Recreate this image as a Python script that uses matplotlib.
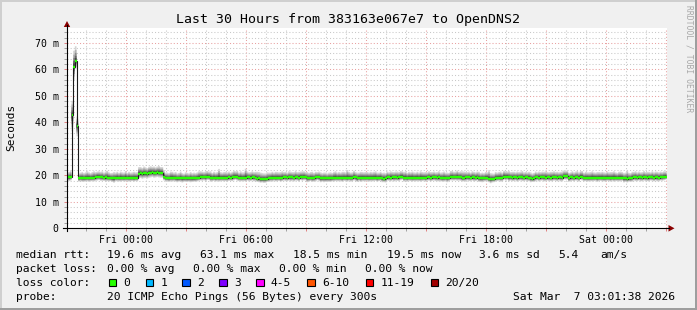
import numpy as np
import matplotlib.pyplot as plt
from matplotlib.patches import Rectangle, Polygon
from matplotlib.lines import Line2D
from matplotlib.ticker import MultipleLocator, FuncFormatter

W, H = 697, 310
MONO = "DejaVu Sans Mono"

# time axis: hours relative to Fri 00:00, graph ends Sat 03:01:38 (30 h window)
t_start = -2.9728
step_h = 5 / 60.0

# median rtt per 5 min step (ms)
median_ms = [
    19.2, 19.2, 19.3, 42.6, 61.0, 63.1, 38.7, 18.9, 19.0, 19.0, 18.9, 19.0, 19.0, 19.1, 19.0, 19.0, 19.1, 19.2, 19.5, 19.4,
    19.3, 19.2, 19.1, 19.2, 19.1, 19.1, 19.0, 18.8, 18.8, 19.0, 19.1, 19.0, 19.1, 19.0, 19.0, 19.1, 19.0, 19.1, 19.0, 19.0,
    19.0, 19.1, 19.0, 20.6, 20.7, 20.6, 20.7, 20.7, 20.6, 21.0, 21.0, 21.1, 21.0, 21.0, 21.1, 21.0, 21.0, 20.9, 19.5, 19.0,
    18.9, 18.9, 19.0, 19.1, 19.0, 18.9, 18.8, 18.8, 18.9, 18.8, 18.8, 18.9, 18.8, 18.8, 18.9, 18.8, 18.8, 18.9, 19.0, 19.1,
    19.3, 19.4, 19.3, 19.2, 19.5, 19.4, 19.1, 19.0, 19.1, 19.0, 19.1, 19.1, 19.0, 19.1, 19.1, 19.0, 19.1, 19.2, 19.1, 19.2,
    19.4, 19.5, 19.4, 19.1, 19.1, 19.0, 19.1, 19.1, 19.2, 19.2, 19.1, 19.2, 19.2, 19.1, 18.7, 18.8, 18.5, 18.5, 18.6, 18.5,
    18.7, 18.9, 19.0, 19.1, 19.1, 19.0, 19.1, 19.1, 19.0, 19.1, 19.2, 19.2, 19.1, 19.2, 19.2, 19.2, 19.1, 19.2, 19.2, 19.1,
    19.4, 19.3, 19.4, 19.3, 18.9, 18.9, 19.0, 18.9, 18.9, 19.2, 19.3, 19.2, 18.8, 18.8, 18.9, 18.8, 18.8, 18.9, 18.8, 18.9,
    19.1, 19.1, 19.0, 19.1, 19.1, 19.0, 19.1, 19.1, 19.0, 19.1, 19.1, 19.0, 19.3, 19.2, 18.8, 19.1, 19.0, 19.1, 19.1, 19.0,
    19.1, 19.1, 19.0, 19.1, 19.1, 19.1, 19.0, 19.1, 19.1, 18.8, 18.7, 18.8, 19.2, 19.2, 19.1, 19.2, 19.2, 19.2, 19.1, 19.2,
    19.4, 19.5, 19.1, 19.1, 19.0, 19.1, 19.1, 19.1, 19.0, 19.1, 19.1, 19.0, 19.1, 19.1, 19.1, 19.0, 19.2, 19.2, 19.1, 19.2,
    19.2, 19.2, 19.1, 19.2, 19.0, 18.9, 19.0, 19.0, 18.9, 19.0, 19.3, 19.4, 19.3, 19.3, 19.4, 19.3, 19.3, 18.9, 19.0, 19.2,
    19.2, 19.2, 19.1, 19.2, 19.2, 19.1, 19.2, 18.9, 18.8, 18.9, 18.9, 19.0, 19.1, 18.6, 18.5, 18.6, 18.6, 19.0, 19.1, 19.1,
    19.1, 19.0, 19.5, 19.4, 19.5, 19.2, 19.2, 19.1, 19.2, 19.2, 19.1, 19.2, 19.2, 19.2, 19.1, 19.2, 19.2, 19.1, 18.8, 18.7,
    18.8, 19.2, 19.2, 19.1, 19.2, 19.2, 19.2, 19.1, 19.2, 19.2, 19.1, 19.2, 19.2, 19.2, 19.1, 19.2, 19.2, 19.1, 19.6, 19.7,
    19.6, 18.8, 19.2, 19.2, 19.1, 19.2, 19.2, 19.1, 19.5, 19.4, 19.0, 19.0, 19.1, 19.0, 19.0, 19.1, 19.1, 19.1, 19.0, 19.1,
    19.1, 19.1, 19.0, 19.1, 19.1, 19.1, 19.0, 19.1, 19.1, 19.1, 19.0, 19.1, 19.1, 19.1, 18.8, 18.8, 18.7, 18.8, 18.8, 19.1,
    19.2, 19.2, 19.1, 19.2, 19.2, 19.1, 19.2, 19.2, 19.1, 19.2, 19.2, 19.2, 19.1, 19.2, 19.2, 19.1, 19.2, 19.3, 19.4, 19.5,
]

# smoke extent above / below the median, tenths of ms
smoke_up = [
    22, 20, 25, 55, 60, 56, 35, 18, 20, 22, 19, 21, 25, 20, 18, 22, 24, 20, 19, 21,
    20, 23, 19, 22, 26, 20, 18, 21, 24, 20, 22, 19, 23, 21, 20, 25, 19, 22, 20, 21,
    23, 20, 22, 25, 24, 22, 26, 23, 21, 22, 24, 21, 23, 20, 22, 25, 21, 22, 24, 20,
    21, 19, 24, 22, 20, 23, 19, 21, 25, 20, 18, 22, 21, 19, 23, 20, 22, 19, 21, 24,
    22, 20, 19, 23, 21, 20, 24, 19, 22, 20, 21, 33, 22, 19, 21, 23, 20, 22, 19, 21,
    23, 20, 22, 19, 24, 21, 20, 34, 22, 19, 21, 23, 20, 22, 26, 24, 25, 23, 21, 22,
    24, 21, 20, 22, 19, 23, 21, 20, 22, 24, 20, 21, 19, 23, 22, 20, 21, 24, 20, 22,
    20, 22, 21, 19, 23, 20, 22, 24, 20, 21, 19, 22, 23, 20, 21, 22, 19, 21, 23, 20,
    22, 24, 20, 21, 19, 23, 22, 20, 30, 22, 19, 21, 24, 20, 22, 19, 23, 21, 20, 22,
    21, 19, 23, 20, 22, 24, 20, 19, 22, 21, 23, 20, 22, 19, 24, 21, 20, 22, 23, 20,
    22, 20, 21, 24, 19, 22, 20, 23, 21, 19, 22, 20, 24, 21, 20, 22, 19, 23, 21, 20,
    22, 19, 21, 23, 20, 22, 24, 20, 21, 19, 23, 22, 20, 21, 24, 20, 22, 26, 24, 21,
    20, 22, 19, 23, 21, 20, 22, 24, 20, 21, 19, 22, 20, 33, 23, 21, 20, 22, 19, 21,
    23, 20, 22, 21, 19, 24, 20, 22, 21, 19, 23, 20, 22, 24, 20, 21, 19, 22, 23, 20,
    21, 22, 19, 23, 20, 22, 21, 24, 20, 19, 22, 21, 23, 20, 22, 19, 21, 24, 22, 20,
    22, 21, 19, 23, 20, 22, 24, 20, 21, 22, 19, 23, 20, 21, 22, 24, 20, 19, 22, 21,
    20, 22, 21, 19, 23, 20, 22, 21, 24, 20, 19, 22, 23, 21, 20, 22, 31, 21, 20, 22,
    21, 23, 20, 22, 19, 21, 24, 20, 22, 21, 19, 23, 20, 22, 21, 20, 22, 19, 21, 20,
]
smoke_dn = [
    12, 14, 13, 60, 50, 30, 40, 13, 12, 15, 13, 14, 12, 16, 13, 12, 14, 13, 15, 12,
    14, 13, 12, 15, 13, 14, 12, 13, 16, 12, 14, 13, 15, 12, 13, 14, 12, 15, 13, 12,
    14, 13, 12, 18, 17, 19, 18, 17, 18, 19, 18, 17, 19, 18, 17, 18, 19, 18, 14, 13,
    12, 14, 13, 15, 12, 13, 14, 12, 13, 15, 12, 14, 13, 12, 15, 13, 12, 14, 13, 12,
    13, 15, 12, 14, 13, 12, 15, 13, 12, 14, 13, 15, 12, 13, 14, 12, 15, 13, 12, 14,
    13, 12, 15, 13, 14, 12, 13, 15, 12, 14, 13, 12, 15, 13, 12, 14, 13, 12, 15, 13,
    12, 14, 13, 15, 12, 13, 14, 12, 15, 13, 12, 14, 13, 12, 15, 13, 14, 12, 13, 15,
    12, 14, 13, 12, 15, 13, 12, 14, 13, 15, 12, 13, 14, 12, 15, 13, 12, 14, 13, 12,
    15, 13, 12, 14, 13, 15, 12, 13, 14, 12, 15, 13, 12, 14, 13, 12, 15, 13, 14, 12,
    13, 15, 12, 14, 13, 12, 15, 13, 12, 14, 13, 15, 12, 13, 14, 12, 15, 13, 12, 14,
    13, 12, 15, 13, 14, 12, 13, 15, 12, 14, 13, 12, 15, 13, 12, 14, 13, 12, 15, 13,
    12, 14, 13, 15, 12, 13, 14, 12, 15, 13, 12, 14, 13, 12, 15, 13, 14, 12, 13, 15,
    12, 14, 13, 12, 15, 13, 12, 14, 13, 15, 12, 13, 14, 12, 15, 13, 12, 14, 13, 12,
    15, 13, 12, 14, 13, 15, 12, 13, 14, 12, 15, 13, 12, 14, 13, 12, 15, 13, 14, 12,
    13, 15, 12, 14, 13, 12, 15, 13, 12, 14, 13, 15, 12, 13, 14, 12, 15, 13, 12, 14,
    13, 12, 15, 13, 14, 12, 13, 15, 12, 14, 13, 12, 15, 13, 12, 14, 13, 12, 15, 13,
    12, 14, 13, 15, 12, 13, 14, 12, 15, 13, 12, 14, 13, 12, 15, 13, 14, 12, 13, 15,
    12, 14, 13, 12, 15, 13, 12, 14, 13, 15, 12, 13, 14, 12, 15, 13, 12, 14, 13, 12,
]

x_tick_hours = [0, 6, 12, 18, 24]
x_tick_labels = ["Fri 00:00", "Fri 06:00", "Fri 12:00", "Fri 18:00", "Sat 00:00"]

rtt_stats = ["19.6 ms avg", "63.1 ms max", "18.5 ms min", "19.5 ms now", "3.6 ms sd", "5.4", "am/s"]
loss_stats = ["0.00 % avg", "0.00 % max", "0.00 % min", "0.00 % now"]
loss_labels = ["0", "1", "2", "3", "4-5", "6-10", "11-19", "20/20"]
loss_colors = ["#26ff00", "#00b8ff", "#0059ff", "#7e00ff", "#ff00ff", "#ff5500", "#ff0000", "#a10000"]


def fx(x):
    return x / W


def fy(y):
    return 1 - y / H


fig = plt.figure(figsize=(W / 100, H / 100), dpi=100, facecolor="#f0f0f0")

ax = fig.add_axes([fx(66.5), fy(228.3), 600 / W, 200.3 / H])
ax.set_facecolor("white")
ax.set_xlim(t_start, t_start + 30)
ax.set_ylim(0, 200.3 / 2.65)
for s in ax.spines.values():
    s.set_visible(False)

med = np.array(median_ms)
up = np.array(smoke_up) / 10.0
dn = np.array(smoke_dn) / 10.0
edges = t_start + np.arange(len(med) + 1) * step_h

# smoke, lightest outer band first
for frac, col in zip([1.0, 0.75, 0.55, 0.35, 0.2],
                     ["#d4d4d4", "#b2b2b2", "#8c8c8c", "#666666", "#404040"]):
    ax.stairs(med + frac * up, edges, baseline=med - frac * dn, fill=True,
              color=col, lw=0, zorder=2)

ax.stairs(med, edges, baseline=None, color="#1a1a1a", lw=0.8, zorder=3)
ax.hlines(med, edges[:-1], edges[1:], colors=loss_colors[0], lw=1.7, zorder=4)

# grid
ax.xaxis.set_major_locator(MultipleLocator(3))
ax.xaxis.set_minor_locator(MultipleLocator(1))
ax.yaxis.set_major_locator(MultipleLocator(10))
ax.yaxis.set_minor_locator(MultipleLocator(2))
ax.set_axisbelow(True)
ax.grid(which="major", color="#e8a0a0", linestyle=(0, (1, 2)), lw=0.75, zorder=0)
ax.grid(which="minor", color="#c8c8c8", linestyle=(0, (1, 2)), lw=0.75, zorder=0)

labels = dict(zip(x_tick_hours, x_tick_labels))
ax.xaxis.set_major_formatter(FuncFormatter(lambda v, p: labels.get(int(round(v)), "") if abs(v - round(v)) < 1e-6 else ""))
ax.yaxis.set_major_formatter(FuncFormatter(lambda v, p: "0" if v == 0 else f"{int(v)} m"))
ax.tick_params(which="both", labelsize=7.1, length=2, width=0.7)
ax.tick_params(axis="x", which="major", color="#e08080", pad=2.5)
ax.tick_params(axis="y", which="major", color="#e08080", pad=3.5)
ax.tick_params(which="minor", color="#a0a0a0")
for lab in ax.get_xticklabels() + ax.get_yticklabels():
    lab.set_family(MONO)

# axis lines and arrows
fig.add_artist(Line2D([fx(67), fx(67)], [fy(231), fy(25)], color="black", lw=0.8))
fig.add_artist(Line2D([fx(63), fx(669)], [fy(228.3), fy(228.3)], color="black", lw=0.8))
fig.add_artist(Polygon([(fx(67), fy(21)), (fx(63.8), fy(27)), (fx(70.2), fy(27))],
                       closed=True, color="#8b0000", lw=0))
fig.add_artist(Polygon([(fx(674.5), fy(228.3)), (fx(668.5), fy(225)), (fx(668.5), fy(231.6))],
                       closed=True, color="#8b0000", lw=0))

# title, labels, watermark
fig.text(fx(348), fy(19.5), "Last 30 Hours from 383163e067e7 to OpenDNS2",
         family=MONO, fontsize=9.55, ha="center", va="center")
fig.text(fx(11), fy(127), "Seconds", family=MONO, fontsize=8, rotation=90,
         ha="center", va="center")
fig.text(fx(688.5), fy(5), "RRDTOOL / TOBI OETIKER", family=MONO, fontsize=5.8,
         rotation=270, ha="center", va="top", color="#a8a8a8")

# legend block
def put(x, y, s):
    fig.text(fx(x), fy(y), s, family=MONO, fontsize=8.1, ha="left", va="baseline")


rows_y = [258.3, 272.3, 286.0, 299.5]
put(16, rows_y[0], "median rtt:")
for x, s in zip([107.3, 200, 293.3, 386.7, 479.3, 558.3, 600], rtt_stats):
    put(x, rows_y[0], s)

put(16, rows_y[1], "packet loss:")
for x, s in zip([107.3, 193.3, 279.3, 365], loss_stats):
    put(x, rows_y[1], s)

put(16, rows_y[2], "loss color:")
box_x = [108.7, 145.7, 182.3, 219.3, 256.3, 307.3, 365.7, 430.7]
for bx, lab, col in zip(box_x, loss_labels, loss_colors):
    fig.add_artist(Rectangle((fx(bx), fy(286)), 7.3 / W, 7.5 / H,
                             facecolor=col, edgecolor="black", lw=0.8))
    put(bx + 14.6, rows_y[2], lab)

put(16, rows_y[3], "probe:")
put(107.3, rows_y[3], "20 ICMP Echo Pings (56 Bytes) every 300s")
put(513.3, rows_y[3], "Sat Mar  7 03:01:38 2026")

# 3d frame
fig.add_artist(Rectangle((0, fy(2)), 1, 2 / H, facecolor="#cfcfcf", lw=0))
fig.add_artist(Rectangle((0, 0), 2 / W, 1, facecolor="#cfcfcf", lw=0))
fig.add_artist(Rectangle((0, 0), 1, 2.5 / H, facecolor="#9e9e9e", lw=0))
fig.add_artist(Rectangle((fx(694.5), 0), 2.5 / W, 1, facecolor="#9e9e9e", lw=0))

fig.savefig("out.png", dpi=100, facecolor=fig.get_facecolor())
